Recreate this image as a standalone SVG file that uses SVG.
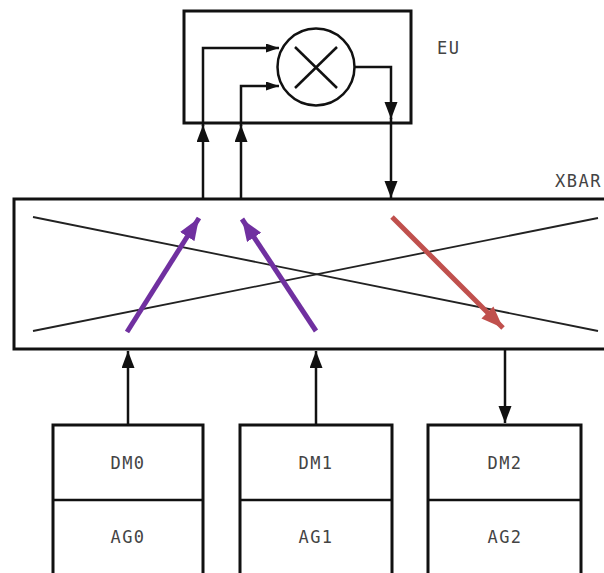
<svg xmlns="http://www.w3.org/2000/svg" width="604" height="573" viewBox="0 0 604 573">
<style>
.box{fill:#fff;stroke:#111;stroke-width:3}
.thin{fill:none;stroke:#222;stroke-width:1.8}
.con{fill:none;stroke:#111;stroke-width:2.5}
.lbl{font-family:"DejaVu Sans Mono","Liberation Mono",monospace;font-size:17px;fill:#444;letter-spacing:1.5px}
.mid{text-anchor:middle}
.pur{fill:none;stroke:#7030A0;stroke-width:5}
.red{fill:none;stroke:#C0504D;stroke-width:5}
</style>
<defs>
<marker id="ah" markerUnits="userSpaceOnUse" markerWidth="18" markerHeight="14" refX="17" refY="6.5" orient="auto"><path d="M0,0 L17,6.5 L0,13 z" fill="#111"/></marker>
<marker id="ahs" markerUnits="userSpaceOnUse" markerWidth="14" markerHeight="10" refX="13" refY="4.5" orient="auto"><path d="M0,0 L13,4.5 L0,9 z" fill="#111"/></marker>
<marker id="ahp" markerUnits="userSpaceOnUse" markerWidth="24" markerHeight="18" refX="22" refY="8.5" orient="auto"><path d="M0,0 L22,8.5 L0,17 z" fill="#7030A0"/></marker>
<marker id="ahr" markerUnits="userSpaceOnUse" markerWidth="24" markerHeight="18" refX="22" refY="8.5" orient="auto"><path d="M0,0 L22,8.5 L0,17 z" fill="#C0504D"/></marker>
</defs>
<rect width="604" height="573" fill="#fff"/>
<g id="EU">
<rect class="box" x="184" y="11" width="227" height="112"/>
<circle cx="316" cy="67" r="38.5" fill="#fff" stroke="#111" stroke-width="2.5"/>
<line class="con" x1="295" y1="47" x2="337" y2="88"/>
<line class="con" x1="337" y1="47" x2="295" y2="88"/>
<text class="lbl" x="437" y="54">EU</text>
</g>
<g id="XBAR">
<rect class="box" x="14" y="199" width="600" height="150"/>
<line class="thin" x1="33" y1="217" x2="598" y2="331"/>
<line class="thin" x1="33" y1="331" x2="598" y2="218"/>
<text class="lbl" x="555" y="187">XBAR</text>
</g>
<g id="DMAG0">
<rect class="box" x="53" y="425" width="150" height="160"/>
<line class="con" x1="53" y1="500" x2="203" y2="500" stroke-width="3"/>
<text class="lbl mid" x="128" y="469">DM0</text>
<text class="lbl mid" x="128" y="543">AG0</text>
</g>
<g id="DMAG1">
<rect class="box" x="240" y="425" width="152" height="160"/>
<line class="con" x1="240" y1="500" x2="392" y2="500" stroke-width="3"/>
<text class="lbl mid" x="316" y="469">DM1</text>
<text class="lbl mid" x="316" y="543">AG1</text>
</g>
<g id="DMAG2">
<rect class="box" x="428" y="425" width="153" height="160"/>
<line class="con" x1="428" y1="500" x2="581" y2="500" stroke-width="3"/>
<text class="lbl mid" x="505" y="469">DM2</text>
<text class="lbl mid" x="505" y="543">AG2</text>
</g>
<g id="connectors">
<line class="con" x1="203" y1="199" x2="203" y2="125" marker-end="url(#ah)"/>
<polyline class="con" points="203,126 203,48 279,48" marker-end="url(#ahs)"/>
<line class="con" x1="241" y1="199" x2="241" y2="125" marker-end="url(#ah)"/>
<polyline class="con" points="241,126 241,86 279,86" marker-end="url(#ahs)"/>
<polyline class="con" points="354,67 391,67 391,119" marker-end="url(#ah)"/>
<line class="con" x1="391" y1="118" x2="391" y2="198" marker-end="url(#ah)"/>
<line class="con" x1="128" y1="425" x2="128" y2="351" marker-end="url(#ah)"/>
<line class="con" x1="316" y1="425" x2="316" y2="351" marker-end="url(#ah)"/>
<line class="con" x1="505" y1="349" x2="505" y2="423" marker-end="url(#ah)"/>
<line class="pur" x1="127" y1="332" x2="199" y2="218" marker-end="url(#ahp)"/>
<line class="pur" x1="316" y1="331" x2="242" y2="219" marker-end="url(#ahp)"/>
<line class="red" x1="392" y1="217" x2="503" y2="328" marker-end="url(#ahr)"/>
</g>
</svg>
